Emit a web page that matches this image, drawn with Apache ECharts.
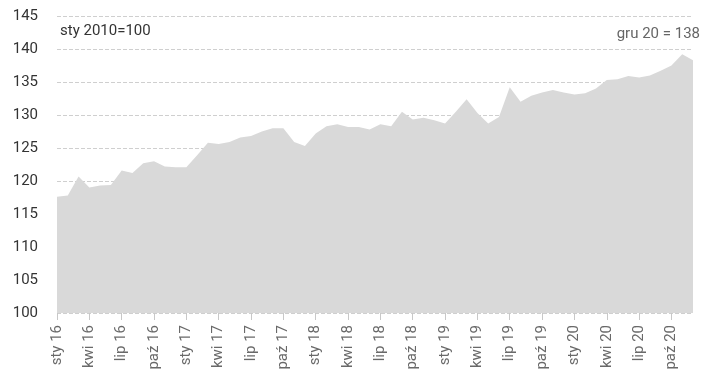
<!DOCTYPE html>
<html>
<head>
<meta charset="utf-8">
<script src="https://cdn.jsdelivr.net/npm/echarts@6/dist/echarts.min.js"></script>
<style>
  html, body { margin: 0; padding: 0; background: #fff; }
  #chart { width: 703px; height: 389px; }
</style>
</head>
<body>
<div id="chart"></div>
<script>
// Monthly index, January 2010 = 100
const months = ['sty', 'lut', 'mar', 'kwi', 'maj', 'cze', 'lip', 'sie', 'wrz', 'paź', 'lis', 'gru'];
const years = ['16', '17', '18', '19', '20'];
const categories = [];
years.forEach(y => months.forEach(m => categories.push(m + ' ' + y)));

const values2016 = [117.6, 117.8, 120.7, 119.0, 119.3, 119.4, 121.6, 121.2, 122.7, 123.0, 122.2, 122.1];
const values2017 = [122.1, 123.9, 125.8, 125.6, 125.9, 126.6, 126.8, 127.5, 128.0, 128.0, 125.9, 125.3];
const values2018 = [127.2, 128.3, 128.6, 128.2, 128.2, 127.8, 128.6, 128.3, 130.5, 129.3, 129.6, 129.2];
const values2019 = [128.7, 130.5, 132.4, 130.3, 128.7, 129.7, 134.2, 132.0, 132.9, 133.4, 133.8, 133.4];
const values2020 = [133.1, 133.3, 134.0, 135.3, 135.4, 135.9, 135.7, 136.0, 136.7, 137.5, 139.2, 138.3];
const values = [].concat(values2016, values2017, values2018, values2019, values2020);

const yMin = 100;
const baseNote = 'sty 2010=100';
const lastNote = 'gru 20 = 138';

const font = 'Roboto, "Noto Sans", sans-serif';
const chart = echarts.init(document.getElementById('chart'));

// Quarterly month labels, written upward under the axis baseline
const labelAnchors = categories.map(c => [c, yMin]);
const isQuarter = (i) => i % 3 === 0;

chart.setOption({
  animation: false,
  backgroundColor: '#ffffff',
  grid: { left: 57, right: 10, top: 16, bottom: 76 },
  xAxis: {
    type: 'category',
    data: categories,
    boundaryGap: false,
    axisLine: { show: false },
    axisTick: { show: true, interval: 2, length: 7, lineStyle: { color: '#c8c8c8' } },
    axisLabel: { show: false }
  },
  yAxis: {
    type: 'value',
    min: yMin,
    max: 145,
    interval: 5,
    axisLine: { show: false },
    axisTick: { show: false },
    axisLabel: { margin: 19, fontFamily: font, fontSize: 15, color: '#333' },
    splitLine: { show: true, lineStyle: { color: '#cfcfcf', type: [4, 2], width: 1 } }
  },
  graphic: [
    { type: 'text', left: 60, top: 24,
      style: { text: baseNote, fontFamily: font, fontSize: 15, fill: '#333' } },
    { type: 'text', right: 3, top: 27,
      style: { text: lastNote, fontFamily: font, fontSize: 15, fill: '#666' } }
  ],
  series: [
    {
      type: 'line',
      data: values,
      symbol: 'none',
      lineStyle: { width: 0, color: '#d9d9d9' },
      areaStyle: { color: '#d9d9d9', opacity: 1 },
      z: 1
    },
    {
      type: 'scatter',
      data: labelAnchors,
      symbolSize: 0,
      silent: true,
      clip: false,
      z: 3,
      label: {
        show: true,
        position: 'bottom',
        distance: 12,
        rotate: 90,
        align: 'right',
        verticalAlign: 'middle',
        fontFamily: font,
        fontSize: 15,
        color: '#444444',
        formatter: (p) => (isQuarter(p.dataIndex) ? categories[p.dataIndex] : '')
      }
    }
  ]
});
</script>
</body>
</html>
